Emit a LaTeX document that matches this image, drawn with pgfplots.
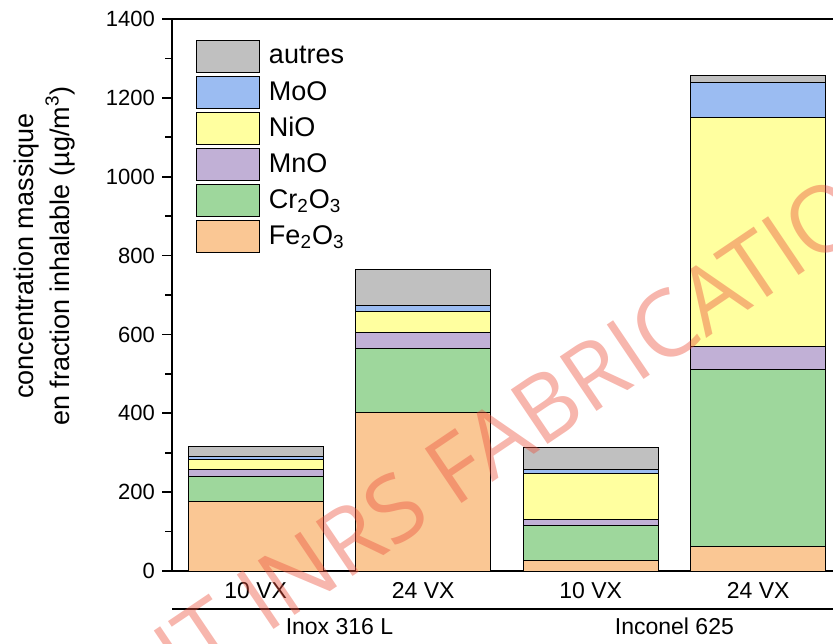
\documentclass[border=0pt]{standalone}
\usepackage{fontspec}
\setmainfont{Liberation Sans}
\newfontfamily\wmfont{Open Sans}
\usepackage{pgfplots}
\pgfplotsset{compat=1.18}

\definecolor{cAutres}{HTML}{C0C0C0}
\definecolor{cMoO}{HTML}{9BBCF2}
\definecolor{cNiO}{HTML}{FFFF9F}
\definecolor{cMnO}{HTML}{C1B0D6}
\definecolor{cCr}{HTML}{9ED79C}
\definecolor{cFe}{HTML}{FAC794}
\definecolor{wmred}{HTML}{EB503C}

\begin{document}
\begin{tikzpicture}
\begin{axis}[
  name=ax,
  scale only axis, width=330.5pt, height=276pt,
  xmin=-0.5, xmax=3.447, ymin=0, ymax=1400,
  enlargelimits=false, clip=false,
  ybar stacked, bar width=67.5pt,
  axis y line*=left, axis x line*=bottom,
  axis line style={line width=0.9pt, black},
  xtick={0,1,2,3},
  xticklabels={10 VX,24 VX,10 VX,24 VX},
  x tick style={draw=none},
  x tick label style={font=\fontsize{11.5}{13}\selectfont, anchor=base, yshift=-8.5pt},
  ytick={0,200,...,1400},
  minor y tick num=1,
  tick align=outside,
  major tick length=5pt, minor tick length=3.5pt,
  y tick style={line width=0.8pt, black},
  y tick label style={font=\fontsize{11}{13}\selectfont},
  /pgf/number format/assume math mode=true,
  /pgf/number format/1000 sep={},
  reverse legend,
  legend cell align=left,
  legend image code/.code={\draw[#1, draw=black, line width=0.5pt] (0pt,-8pt) rectangle (31.5pt,8pt);},
  legend style={draw=none, fill=none, inner sep=0pt, outer sep=0pt,
    at={(rel axis cs:0.0363,0.962)}, anchor=north west,
    row sep=1.5pt, column sep=4.5pt,
    font=\fontsize{13.5}{16}\selectfont,
    nodes={inner sep=0pt}},
]
% stacked oxide contributions, bottom to top
\addplot[fill=cFe, draw=black, line width=0.5pt] coordinates {(0,176) (1,403) (2,26) (3,62)};
\addlegendentry{Fe\textsubscript{2}O\textsubscript{3}}
\addplot[fill=cCr, draw=black, line width=0.5pt] coordinates {(0,63) (1,161) (2,90) (3,448)};
\addlegendentry{Cr\textsubscript{2}O\textsubscript{3}}
\addplot[fill=cMnO, draw=black, line width=0.5pt] coordinates {(0,19) (1,41) (2,14) (3,59)};
\addlegendentry{MnO}
\addplot[fill=cNiO, draw=black, line width=0.5pt] coordinates {(0,25) (1,54) (2,117) (3,580)};
\addlegendentry{NiO}
\addplot[fill=cMoO, draw=black, line width=0.5pt] coordinates {(0,7) (1,15) (2,11) (3,90)};
\addlegendentry{MoO}
\addplot[fill=cAutres, draw=black, line width=0.5pt] coordinates {(0,27) (1,91) (2,56) (3,17)};
\addlegendentry{autres}

% top frame line
\draw[line width=0.6pt] (rel axis cs:0,1) -- (rel axis cs:1,1);
% group separator and group names
\draw[line width=1pt] (rel axis cs:0,-0.0688) -- (rel axis cs:1,-0.0688);
\node[anchor=base, font=\fontsize{11.5}{13}\selectfont] at (axis cs:0.5,-162) {Inox 316 L};
\node[anchor=base, font=\fontsize{11.5}{13}\selectfont] at (axis cs:2.5,-162) {Inconel 625};
% y axis title
\node[rotate=90, align=center, font=\fontsize{13.5}{18}\selectfont] at (rel axis cs:-0.1936,0.5707)
  {concentration massique\\en fraction inhalable (µg/m\textsuperscript{3})};
\end{axis}
% watermark, laid over the bars
\node[overlay, rotate=34, anchor=base west, inner sep=0pt, text=wmred, text opacity=0.42,
  font=\wmfont\fontsize{46}{46}\selectfont] at ([xshift=5.5pt,yshift=-60pt]ax.south west) {IT INRS FABRICATION};
\pgfresetboundingbox
\path[use as bounding box] ([xshift=-86pt,yshift=-36pt]ax.south west) rectangle ([yshift=9.5pt]ax.north east);
\end{tikzpicture}
\end{document}
